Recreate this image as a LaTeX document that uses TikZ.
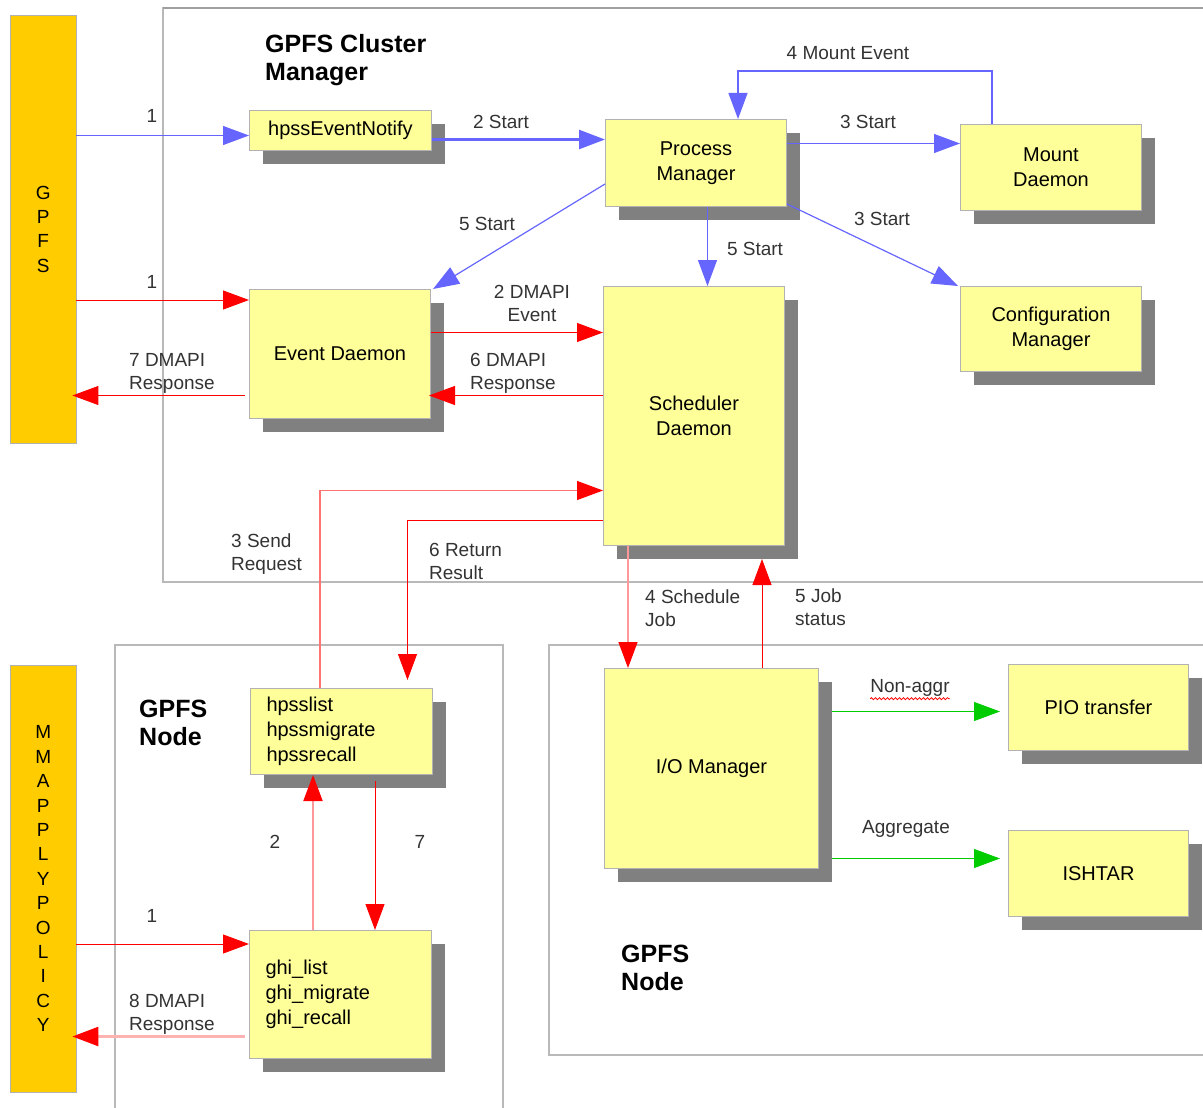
\documentclass[tikz,border=0pt]{standalone}
\usepackage{fontspec}
\setmainfont{Liberation Sans}
\usetikzlibrary{arrows.meta,shadows,decorations.pathmorphing}

\definecolor{boxyellow}{HTML}{FFFF99}
\definecolor{baryellow}{HTML}{FFCC00}
\definecolor{shadowgray}{HTML}{808080}
\definecolor{flowblue}{HTML}{6666FF}
\definecolor{flowgreen}{HTML}{00CC00}

\begin{document}
\begin{tikzpicture}[x=1pt, y=-1pt,
    comp/.style={draw=gray!60, fill=boxyellow, anchor=north west, inner sep=0pt,
                 line width=1pt, align=center, font=\fontsize{20}{25}\selectfont,
                 drop shadow={shadow xshift=13pt, shadow yshift=-13pt,
                              fill=shadowgray, opacity=1}},
    bar/.style={draw=gray!60, fill=baryellow, anchor=north west, inner sep=0pt,
                minimum width=66pt, align=center, font=\fontsize{19}{24.4}\selectfont},
    region/.style={draw=gray!55, line width=1.5pt},
    title/.style={anchor=west, align=left, inner sep=0pt,
                  font=\fontsize{25}{28.5}\selectfont\bfseries},
    lbl/.style={inner sep=0pt, align=center, text=black!80,
                font=\fontsize{19}{23}\selectfont},
    lbll/.style={lbl, anchor=west, align=left},
    blueflow/.style={draw=flowblue, line width=1.2pt, -{Triangle[length=26pt,width=19pt]}},
    redflow/.style={draw=red, line width=1pt, -{Triangle[length=26pt,width=19pt]}},
    pinkflow/.style={draw=red!40, line width=2pt, -{Triangle[length=26pt,width=19pt,color=red]}},
    greenflow/.style={draw=flowgreen, line width=1pt, -{Triangle[length=26pt,width=19pt]}}]

  \useasboundingbox (0,0) rectangle (1203,1108);

  % Regions
  \draw[region] (1203,8) -- (163,8) -- (163,582) -- (1203,582);
  \draw[region, draw=gray!75] (1203,8) -- (163,8);
  \draw[region] (115,1108) -- (115,645) -- (503,645) -- (503,1108);
  \draw[region] (1203,645) -- (549,645) -- (549,1055) -- (1203,1055);

  \node[title] (cluster title) at (265,60) {GPFS Cluster\\Manager};
  \node[title] (node title left) at (139,723) {GPFS\\Node};
  \node[title] (node title right) at (621,968) {GPFS\\Node};

  % Side bars
  \node[bar, minimum height=428pt] (gpfs) at (10,15) {G\\P\\F\\S};
  \node[bar, minimum height=427pt] (mmap) at (10,665)
       {M\\M\\A\\P\\P\\L\\Y\\P\\O\\L\\I\\C\\Y};

  % Cluster manager components
  \node[comp, minimum width=182pt, minimum height=40pt] (hen) at (249,110) {hpssEventNotify};
  \node[comp, minimum width=181pt, minimum height=87pt] (pm) at (605,119) {Process\\Manager};
  \node[comp, minimum width=181pt, minimum height=86pt] (md) at (960,124) {Mount\\Daemon};
  \node[comp, minimum width=181pt, minimum height=85pt] (cm) at (960,286) {Configuration\\Manager};
  \node[comp, minimum width=181pt, minimum height=129pt] (ed) at (249,289) {Event Daemon};
  \node[comp, minimum width=181pt, minimum height=259pt] (sd) at (603,286) {Scheduler\\Daemon};

  % Node components
  \node[comp, minimum width=182pt, minimum height=86pt, text width=150pt, align=left]
       (hcmd) at (250,688) {hpsslist\\hpssmigrate\\hpssrecall};
  \node[comp, minimum width=182pt, minimum height=128pt, text width=150pt, align=left]
       (ghi) at (249,930) {ghi\_list\\ghi\_migrate\\ghi\_recall};
  \node[comp, minimum width=214pt, minimum height=200pt] (iom) at (604,668) {I/O Manager};
  \node[comp, minimum width=180pt, minimum height=86pt] (pio) at (1008,664) {PIO transfer};
  \node[comp, minimum width=180pt, minimum height=86pt] (ishtar) at (1008,830) {ISHTAR};

  % Blue start flows
  \draw[blueflow] ([yshift=-5pt]hen.west -| gpfs.east) -- ([yshift=-5pt]hen.west);
  \draw[blueflow, line width=2.5pt] ([yshift=-9pt]hen.east) -- ([yshift=-9pt]hen.east -| pm.west);
  \draw[blueflow] ([yshift=19.5pt]pm.east) -- ([yshift=19.5pt]pm.east -| md.west);
  \draw[blueflow] ([xshift=32pt]md.north west) -- ++(0,-53) -| ([xshift=133pt]pm.north west);
  \draw[blueflow] ([yshift=3pt]pm.south east) -- ([xshift=-2pt]cm.north west);
  \draw[blueflow] ([xshift=11.5pt]pm.south) -- ([xshift=11.5pt]pm.south |- sd.north);
  \draw[blueflow] ([yshift=-21pt]pm.west) -- ([xshift=2pt]ed.north east);

  % DMAPI flows
  \draw[redflow] ([yshift=-11pt]ed.north west -| gpfs.east) -- ([yshift=-11pt]ed.north west);
  \draw[redflow] ([yshift=21.5pt]ed.east) -- ([yshift=21.5pt]ed.east -| sd.west);
  \draw[redflow, shorten >=-2pt] ([yshift=-41.5pt]ed.east -| sd.west) -- ([yshift=-41.5pt]ed.east);
  \draw[redflow, shorten <=4pt, shorten >=-4pt] ([yshift=-41.5pt]ed.west) -- ([yshift=-41.5pt]ed.west -| gpfs.east);

  % Requests between node and scheduler
  \draw[pinkflow, line width=1.2pt, draw=red!55] ([xshift=70pt]hcmd.north west) |- ([yshift=-74.5pt]sd.west);
  \draw[redflow, shorten >=8pt] ([yshift=-104.5pt]sd.west) -| ([xshift=66pt]hcmd.north);
  \draw[pinkflow, line width=1.5pt] ([xshift=25pt]sd.south west) -- ([xshift=25pt]sd.south west |- iom.north);
  \draw[redflow] ([xshift=159pt]sd.south west |- iom.north) -- ([xshift=159pt, yshift=-13pt]sd.south west);

  % Node internal flows
  \draw[pinkflow] ([xshift=64pt]ghi.north west) -- ([xshift=64pt]ghi.north west |- hcmd.south);
  \draw[redflow, shorten <=6pt] ([xshift=126pt]ghi.north west |- hcmd.south) -- ([xshift=126pt]ghi.north west);
  \draw[redflow] ([yshift=-14pt]ghi.north west -| mmap.east) -- ([yshift=-14pt]ghi.north west);
  \draw[pinkflow, line width=2.5pt, draw=red!30, shorten <=4pt, shorten >=-4pt]
       ([yshift=-42pt]ghi.west) -- ([yshift=-42pt]ghi.west -| mmap.east);

  % Transfer paths
  \draw[greenflow, shorten <=13pt, shorten >=8pt] ([yshift=57pt]iom.east) -- ([yshift=57pt]iom.east -| pio.west);
  \draw[greenflow, shorten <=13pt, shorten >=8pt] ([yshift=-90pt]iom.east) -- ([yshift=-90pt]iom.east -| ishtar.west);

  % Flow labels
  \foreach \x/\y/\t [count=\i] in {152/116/1, 501/122/2 Start, 868/122/3 Start,
      848/53/4 Mount Event, 882/219/3 Start, 755/249/5 Start, 487/224/5 Start,
      152/282/1, 532/303/{2 DMAPI\\Event}, 275/842/2, 420/842/7, 152/916/1,
      906/829/Aggregate}
    \node[lbl] (flow label \i) at (\x,\y) {\t};
  \foreach \x/\y/\t [count=\i] in {470/373/{6 DMAPI\\Response}, 129/373/{7 DMAPI\\Response},
      231/554/{3 Send\\Request}, 429/561/{6 Return\\Result}, 645/608/{4 Schedule\\Job},
      795/607/{5 Job\\status}, 129/1014/{8 DMAPI\\Response}}
    \node[lbll] (side label \i) at (\x,\y) {\t};
  \node[lbl] (nonaggr) at (910,688) {Non-aggr};
  \draw[red, line width=0.8pt, decorate, decoration={snake, amplitude=1pt, segment length=4pt}]
       ([yshift=-2pt]nonaggr.south west) -- ([yshift=-2pt]nonaggr.south east);

\end{tikzpicture}
\end{document}
